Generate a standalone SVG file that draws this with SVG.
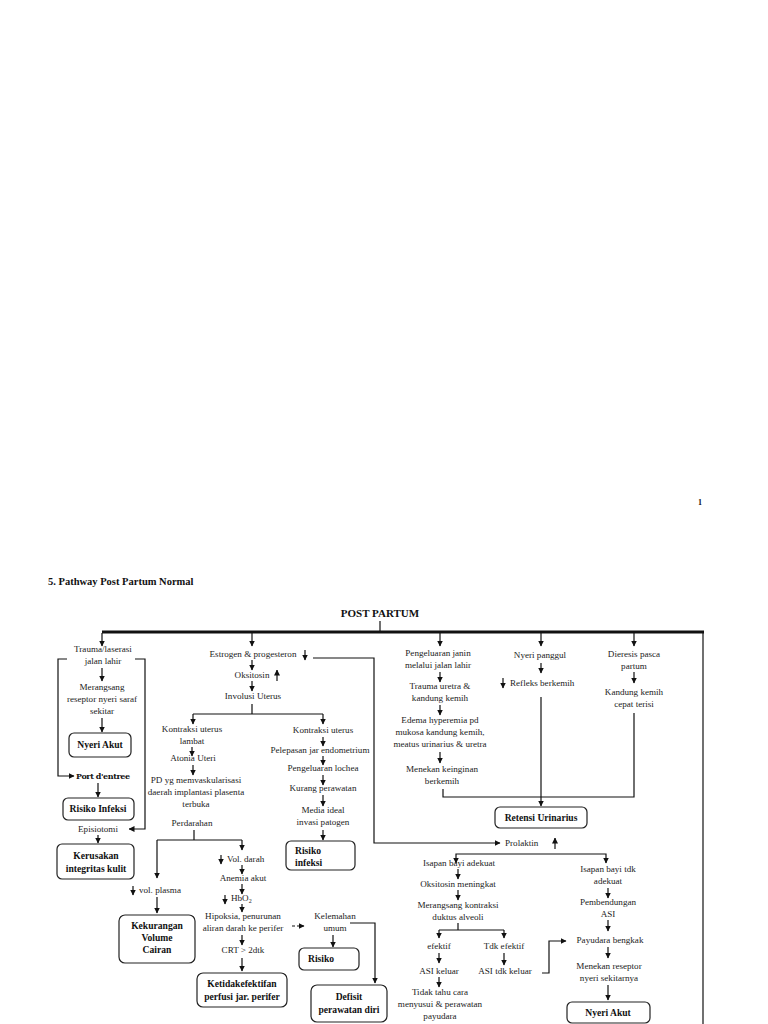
<svg xmlns="http://www.w3.org/2000/svg" width="768" height="1024" viewBox="0 0 768 1024">
<defs>
<marker id="ah" markerWidth="6" markerHeight="6" refX="5.5" refY="3" orient="auto-start-reverse" markerUnits="userSpaceOnUse"><path d="M0,0 L6,3 L0,6 z" fill="#111"/></marker>
<style>
.t{font-family:"Liberation Serif","Times New Roman",serif;font-size:9.1px;fill:#222;text-anchor:middle}
.l{text-anchor:start}
.b{font-weight:bold;font-size:9.6px;fill:#111}
.box{fill:#fff;stroke:#222;stroke-width:1.2}
.c{fill:none;stroke:#111;stroke-width:1.2}
.a{fill:none;stroke:#111;stroke-width:1.2;marker-end:url(#ah)}
</style>
</defs>
<rect width="768" height="1024" fill="#fff"/>
<text class="t b" x="700" y="505" style="font-size:8px">1</text>
<text class="t b l" x="48" y="585" style="font-size:10.5px">5. Pathway Post Partum Normal</text>
<text class="t b" x="380" y="617" style="font-size:11px">POST PARTUM</text>

<g id="connectors">
<line class="c" x1="380" y1="621" x2="380" y2="632"/>
<line x1="102" y1="632" x2="704" y2="632" stroke="#111" stroke-width="3"/>
<line class="c" x1="703" y1="632" x2="703" y2="1024"/>
<path class="a" d="M102,633 V646"/>
<path class="a" d="M252,633 V646"/>
<path class="a" d="M440,633 V646"/>
<path class="a" d="M541,633 V646"/>
<path class="a" d="M634,633 V646"/>
<path class="a" d="M67,659 H58 V776 H74"/>
<path class="a" d="M135,659 H145 V829 H129"/>
<path class="a" d="M102,668 V681"/>
<path class="a" d="M102,718 V732"/>
<path class="a" d="M98,783 V797"/>
<path class="a" d="M98,835 V843"/>
<path class="a" d="M305,650 V660"/>
<path class="a" d="M313,658 H374 V843 H500"/>
<path class="a" d="M252,660 V670"/>
<path class="a" d="M277,681 V670"/>
<path class="a" d="M252,681 V691"/>
<path class="c" d="M252,704 V714 M193,714 H323"/>
<path class="a" d="M193,714 V724"/>
<path class="a" d="M323,714 V724"/>
<path class="a" d="M192,747 V756"/>
<path class="a" d="M193,765 V775"/>
<path class="c" d="M194,830 V840 M157,840 H242"/>
<path class="a" d="M157,840 V878"/>
<path class="a" d="M242,840 V850"/>
<path class="a" d="M323,737 V746"/>
<path class="a" d="M323,756 V765"/>
<path class="a" d="M323,775 V785"/>
<path class="a" d="M323,795 V806"/>
<path class="a" d="M323,830 V840"/>
<path class="a" d="M133,886 V895"/>
<path class="a" d="M157,897 V913"/>
<path class="a" d="M221,855 V864"/>
<path class="a" d="M242,865 V874"/>
<path class="a" d="M242,884 V894"/>
<path class="a" d="M225,895 V904"/>
<path class="a" d="M242,904 V912"/>
<path class="a" d="M242,935 V945"/>
<path class="a" d="M242,958 V971"/>
<path class="a" d="M292,926 H304" stroke-dasharray="3,2"/>
<path class="a" d="M333,935 V947"/>
<path class="a" d="M350,923 H375 V983"/>
<path class="a" d="M440,672 V682"/>
<path class="a" d="M440,705 V715"/>
<path class="a" d="M440,752 V763"/>
<path class="c" d="M443,789 V797 H634 V713"/>
<path class="a" d="M541,663 V673"/>
<path class="a" d="M503,678 V688"/>
<path class="a" d="M541,697 V806"/>
<path class="a" d="M634,672 V683"/>
<path class="a" d="M555,849 V838"/>
<path class="a" d="M456,863 V854 H606 V863" style="marker-start:url(#ah)"/>
<path class="a" d="M458,869 V879"/>
<path class="a" d="M458,890 V900"/>
<path class="c" d="M458,923 V930 M439,930 H504"/>
<path class="a" d="M439,930 V938"/>
<path class="a" d="M504,930 V938"/>
<path class="a" d="M439,953 V963"/>
<path class="a" d="M439,977 V987"/>
<path class="a" d="M504,953 V965"/>
<path class="a" d="M542,973 H549 V941 H566"/>
<path class="a" d="M608,888 V898"/>
<path class="a" d="M608,920 V931"/>
<path class="a" d="M608,947 V958"/>
<path class="a" d="M608,985 V1000"/>
</g>

<g id="n-trauma"><text class="t" x="103" y="652">Trauma/laserasi</text><text class="t" x="103" y="664">jalan lahir</text></g>
<g id="n-merangsang"><text class="t" x="102" y="690">Merangsang</text><text class="t" x="102" y="702">reseptor nyeri saraf</text><text class="t" x="102" y="714">sekitar</text></g>
<g id="n-nyeri-akut-1"><rect class="box" x="69" y="733" width="62" height="24" rx="5"/><text class="t b" x="100" y="748">Nyeri Akut</text></g>
<g id="n-port"><text class="t b l" x="76" y="779" style="font-family:'DejaVu Serif',serif;font-size:8px;letter-spacing:-0.4px">Port d'entree</text></g>
<g id="n-risiko-infeksi-1"><rect class="box" x="63" y="798" width="71" height="22" rx="5"/><text class="t b" x="98" y="812">Risiko Infeksi</text></g>
<g id="n-episiotomi"><text class="t" x="98" y="832">Episiotomi</text></g>
<g id="n-kerusakan"><rect class="box" x="57" y="844" width="77" height="35" rx="5"/><text class="t b" x="96" y="859">Kerusakan</text><text class="t b" x="96" y="872">integritas kulit</text></g>

<g id="n-estrogen"><text class="t" x="253" y="657">Estrogen &amp; progesteron</text></g>
<g id="n-oksitosin"><text class="t" x="252" y="678">Oksitosin</text></g>
<g id="n-involusi"><text class="t" x="253" y="699">Involusi Uterus</text></g>
<g id="n-kontraksi-lambat"><text class="t" x="192" y="732">Kontraksi uterus</text><text class="t" x="192" y="744">lambat</text></g>
<g id="n-atonia"><text class="t" x="193" y="761">Atonia Uteri</text></g>
<g id="n-pd"><text class="t" x="196" y="783">PD yg memvaskularisasi</text><text class="t" x="196" y="795">daerah implantasi plasenta</text><text class="t" x="196" y="807">terbuka</text></g>
<g id="n-perdarahan"><text class="t" x="192" y="826">Perdarahan</text></g>
<g id="n-kontraksi"><text class="t" x="323" y="733">Kontraksi uterus</text></g>
<g id="n-pelepasan"><text class="t" x="320" y="753">Pelepasan jar endometrium</text></g>
<g id="n-lochea"><text class="t" x="323" y="771">Pengeluaran lochea</text></g>
<g id="n-kurang"><text class="t" x="323" y="791">Kurang perawatan</text></g>
<g id="n-media"><text class="t" x="323" y="813">Media ideal</text><text class="t" x="323" y="825">invasi patogen</text></g>
<g id="n-risiko-infeksi-2"><rect class="box" x="286" y="841" width="69" height="29" rx="5"/><text class="t b l" x="295" y="854">Risiko</text><text class="t b l" x="295" y="866">infeksi</text></g>
<g id="n-vol-plasma"><text class="t l" x="139" y="893">vol. plasma</text></g>
<g id="n-kekurangan"><rect class="box" x="119" y="915" width="76" height="48" rx="6"/><text class="t b" x="157" y="929">Kekurangan</text><text class="t b" x="157" y="941">Volume</text><text class="t b" x="157" y="953">Cairan</text></g>
<g id="n-vol-darah"><text class="t l" x="227" y="862">Vol. darah</text></g>
<g id="n-anemia"><text class="t" x="243" y="881">Anemia akut</text></g>
<g id="n-hbo2"><text class="t l" x="231" y="901">HbO<tspan font-size="6" dy="2">2</tspan></text></g>
<g id="n-hipoksia"><text class="t" x="243" y="919">Hipoksia, penurunan</text><text class="t" x="243" y="931">aliran darah ke perifer</text></g>
<g id="n-crt"><text class="t" x="243" y="953">CRT &gt; 2dtk</text></g>
<g id="n-ketidakefektifan"><rect class="box" x="197" y="973" width="90" height="34" rx="6"/><text class="t b" x="242" y="987">Ketidakefektifan</text><text class="t b" x="242" y="1000">perfusi jar. perifer</text></g>
<g id="n-kelemahan"><text class="t" x="335" y="919">Kelemahan</text><text class="t" x="335" y="931">umum</text></g>
<g id="n-risiko"><rect class="box" x="299" y="948" width="60" height="22" rx="5"/><text class="t b l" x="308" y="962">Risiko</text></g>
<g id="n-defisit"><rect class="box" x="311" y="985" width="76" height="37" rx="6"/><text class="t b" x="349" y="1000">Defisit</text><text class="t b" x="349" y="1013">perawatan diri</text></g>

<g id="n-pengeluaran-janin"><text class="t" x="438" y="656">Pengeluaran janin</text><text class="t" x="438" y="668">melalui jalan lahir</text></g>
<g id="n-trauma-uretra"><text class="t" x="440" y="689">Trauma uretra &amp;</text><text class="t" x="440" y="701">kandung kemih</text></g>
<g id="n-edema"><text class="t" x="440" y="723">Edema hyperemia pd</text><text class="t" x="440" y="735">mukosa kandung kemih,</text><text class="t" x="440" y="747">meatus urinarius &amp; uretra</text></g>
<g id="n-menekan-keinginan"><text class="t" x="442" y="772">Menekan keinginan</text><text class="t" x="442" y="784">berkemih</text></g>
<g id="n-nyeri-panggul"><text class="t" x="540" y="658">Nyeri panggul</text></g>
<g id="n-refleks"><text class="t l" x="510" y="686">Refleks berkemih</text></g>
<g id="n-retensi"><rect class="box" x="495" y="807" width="92" height="21" rx="5"/><text class="t b" x="541" y="821">Retensi Urinarius</text></g>
<g id="n-dieresis"><text class="t" x="634" y="657">Dieresis pasca</text><text class="t" x="634" y="669">partum</text></g>
<g id="n-kandung-kemih"><text class="t" x="634" y="695">Kandung kemih</text><text class="t" x="634" y="707">cepat terisi</text></g>

<g id="n-prolaktin"><text class="t l" x="505" y="846">Prolaktin</text></g>
<g id="n-isapan-adekuat"><text class="t" x="459" y="866">Isapan bayi adekuat</text></g>
<g id="n-oksitosin-meningkat"><text class="t" x="458" y="887">Oksitosin meningkat</text></g>
<g id="n-merangsang-kontraksi"><text class="t" x="458" y="908">Merangsang kontraksi</text><text class="t" x="458" y="920">duktus alveoli</text></g>
<g id="n-efektif"><text class="t" x="439" y="949">efektif</text></g>
<g id="n-asi-keluar"><text class="t" x="439" y="974">ASI keluar</text></g>
<g id="n-tidak-tahu"><text class="t" x="440" y="995">Tidak tahu cara</text><text class="t" x="440" y="1007">menyusui &amp; perawatan</text><text class="t" x="440" y="1019">payudara</text></g>
<g id="n-tdk-efektif"><text class="t" x="504" y="949">Tdk efektif</text></g>
<g id="n-asi-tdk-keluar"><text class="t" x="505" y="974">ASI tdk keluar</text></g>
<g id="n-isapan-tdk"><text class="t" x="608" y="872">Isapan bayi tdk</text><text class="t" x="608" y="884">adekuat</text></g>
<g id="n-pembendungan"><text class="t" x="608" y="905">Pembendungan</text><text class="t" x="608" y="917">ASI</text></g>
<g id="n-payudara"><text class="t" x="610" y="943">Payudara bengkak</text></g>
<g id="n-menekan-reseptor"><text class="t" x="609" y="969">Menekan reseptor</text><text class="t" x="609" y="981">nyeri sekitarnya</text></g>
<g id="n-nyeri-akut-2"><rect class="box" x="567" y="1002" width="83" height="21" rx="5"/><text class="t b" x="608" y="1016">Nyeri Akut</text></g>
</svg>
